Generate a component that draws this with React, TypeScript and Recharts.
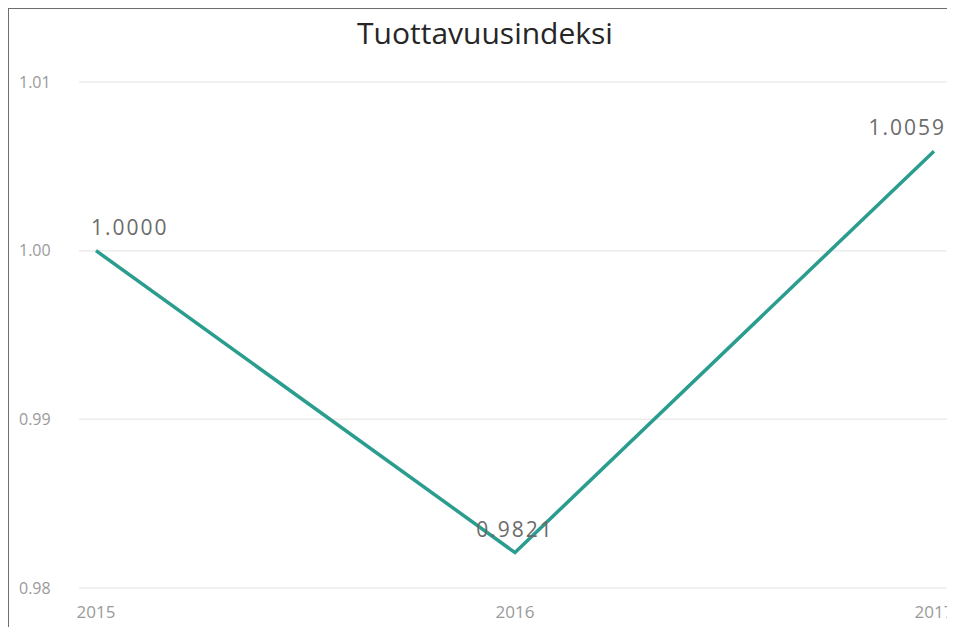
import { LineChart, Line, XAxis, YAxis, CartesianGrid } from 'recharts';

const years = ['2015', '2016', '2017'];
const indexValues = [1.0, 0.9821, 1.0059];
const yTicks = [0.98, 0.99, 1.0, 1.01];

const data = years.map((year, i) => ({ year, value: indexValues[i] }));

const YTick = (props: any) => {
  const { y, payload } = props;
  return (
    <text x={10} y={y} dy="0.355em" textAnchor="start" fill="#9a9a9a" fontSize={16} fontFamily="'Open Sans', sans-serif">
      {payload.value.toFixed(2)}
    </text>
  );
};

const ValueLabel = (props: any) => {
  const { x, y, value, index } = props;
  const anchor = index === 0 ? 'start' : index === years.length - 1 ? 'end' : 'middle';
  const dx = index === 0 ? -5 : index === years.length - 1 ? 12 : 0;
  return (
    <text
      x={x + dx}
      y={y - 16}
      textAnchor={anchor}
      fill="#6b6b6b"
      fontSize={21}
      letterSpacing={2}
      fontFamily="'Open Sans', sans-serif"
    >
      {Number(value).toFixed(4)}
    </text>
  );
};

export default function App() {
  return (
    <div
      style={{
        position: 'relative',
        width: 946,
        height: 618,
        overflow: 'hidden',
        borderTop: '2px solid #6e6e6e',
        borderLeft: '2px solid #6e6e6e',
        marginTop: -1,
        marginLeft: -1,
        background: '#fff',
      }}
    >
      <style>{`html, body { overflow: hidden; }`}</style>
      <div
        style={{
          position: 'absolute',
          top: 9,
          left: 0,
          width: 952,
          textAlign: 'center',
          fontFamily: "'Open Sans', sans-serif",
          fontSize: 30,
          lineHeight: '30px',
          color: '#262626',
        }}
      >
        Tuottavuusindeksi
      </div>
      <LineChart width={960} height={618} data={data} margin={{ top: 73, right: 0, bottom: 0, left: 0 }}>
        <CartesianGrid horizontal vertical={false} stroke="#ececec" strokeWidth={1.5} />
        <XAxis
          dataKey="year"
          axisLine={false}
          tickLine={false}
          tickSize={0}
          tickMargin={18}
          height={39}
          padding={{ left: 17, right: 35 }}
          interval={0}
          tick={{ fill: '#9a9a9a', fontSize: 17, fontFamily: "'Open Sans', sans-serif" }}
        />
        <YAxis
          domain={[0.98, 1.01]}
          ticks={yTicks}
          axisLine={false}
          tickLine={false}
          width={70}
          tick={<YTick />}
        />
        <Line
          type="linear"
          dataKey="value"
          stroke="#2a9d8e"
          strokeWidth={3.5}
          dot={false}
          activeDot={false}
          label={<ValueLabel />}
          isAnimationActive={false}
        />
      </LineChart>
    </div>
  );
}
